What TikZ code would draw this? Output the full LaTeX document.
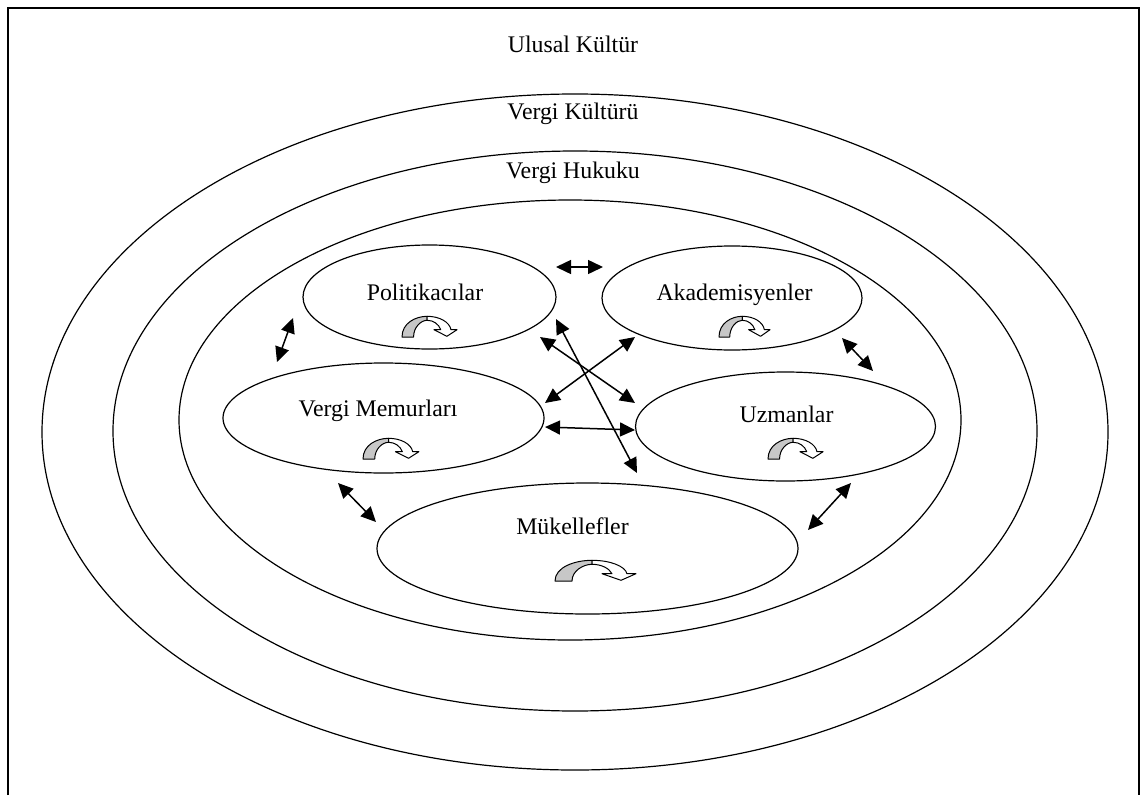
\documentclass[tikz,border=0pt]{standalone}
\usepackage{fontspec}
\setmainfont{Liberation Serif}
\usetikzlibrary{shapes.geometric,arrows.meta}
\tikzset{
  ring/.style={draw, ellipse, line width=1.2pt, inner sep=0pt},
  actor/.style={draw, ellipse, line width=1.2pt, inner sep=0pt},
  lbl/.style={anchor=base, inner sep=0pt, font=\fontsize{23.8}{28}\selectfont},
  dbl/.style={{Triangle[length=15pt,width=14pt]}-{Triangle[length=15pt,width=14pt]}, line width=1.5pt},
  loopicon/.pic={
    \filldraw[fill=black!22, line width=1pt, line join=round]
      (0,0) .. controls (0,14) and (20,20.7) .. (37,20.7) -- (37,16.7)
      .. controls (28,16.7) and (17,10) .. (17,0) -- cycle;
    \filldraw[fill=white, line width=1pt, line join=round]
      (37,20.7) .. controls (55,20.7) and (70,15) .. (72,7.3) -- (81,7.3) -- (66,0.7)
      -- (47,7.3) -- (57,7.3) .. controls (54,13) and (46,16.7) .. (37,16.7) -- cycle;
  }
}
\begin{document}
\begin{tikzpicture}[x=1pt,y=1pt]
\useasboundingbox (0,0) rectangle (1142,-795);
% frame (open at bottom)
\draw[line width=2.2pt] (8,-795) -- (8,-8) -- (1139,-8) -- (1139,-795);

% nested rings
\node[ring, minimum width=1066, minimum height=676] (kultur) at (575,-432) {};
\node[ring, minimum width=924, minimum height=560] (hukuk) at (575,-431) {};
\node[ring, minimum width=782, minimum height=440] (ic) at (570,-420) {};

\node[lbl] (tUlusal) at (573,-52) {Ulusal Kültür};
\node[lbl] (tKultur) at (573,-119) {Vergi Kültürü};
\node[lbl] (tHukuk) at (573,-178) {Vergi Hukuku};

% actors
\node[actor, minimum width=253, minimum height=104] (pol) at (429.5,-297) {};
\node[actor, minimum width=260, minimum height=104] (aka) at (732,-298) {};
\node[actor, minimum width=300, minimum height=109] (uzm) at (785.5,-426.5) {};
\node[actor, minimum width=321, minimum height=110] (mem) at (383.5,-418) {};
\node[actor, minimum width=421, minimum height=131] (muk) at (587.5,-548.5) {};

\node[lbl] (tPol) at (425,-300) {Politikacılar};
\node[lbl] (tAka) at (734.5,-300) {Akademisyenler};
\node[lbl] (tUzm) at (786.5,-422.7) {Uzmanlar};
\node[lbl] (tMem) at (378,-416) {Vergi Memurları};
\node[lbl] (tMuk) at (572.5,-534) {Mükellefler};

% self-loop icons
\pic[xscale=0.68] at (402,-337) {loopicon};
\pic[xscale=0.63] at (719,-337) {loopicon};
\pic[xscale=0.68] at (768,-459) {loopicon};
\pic[xscale=0.69] at (363,-459) {loopicon};
\pic at (555,-581) {loopicon};

% connector end points
\coordinate (a1) at (556,-267); \coordinate (b1) at (603,-267);
\coordinate (a2) at (293,-318); \coordinate (b2) at (277,-362);
\coordinate (a3) at (842,-338); \coordinate (b3) at (873,-371);
\coordinate (a4) at (338,-483); \coordinate (b4) at (376,-522);
\coordinate (a5) at (851,-483); \coordinate (b5) at (808,-530);
\coordinate (a6) at (556,-319); \coordinate (b6) at (637,-473);
\coordinate (a7) at (540,-337); \coordinate (b7) at (635,-403);
\coordinate (a8) at (545,-403); \coordinate (b8) at (635,-337);
\coordinate (a9) at (545,-427); \coordinate (b9) at (635,-430);

\draw[dbl] (a1) -- (b1);
\draw[dbl] (a2) -- (b2);
\draw[dbl] (a3) -- (b3);
\draw[dbl] (a4) -- (b4);
\draw[dbl] (a5) -- (b5);
\draw[dbl] (a6) -- (b6);
\draw[dbl] (a7) -- (b7);
\draw[dbl] (a8) -- (b8);
\draw[dbl] (a9) -- (b9);
\end{tikzpicture}
\end{document}
